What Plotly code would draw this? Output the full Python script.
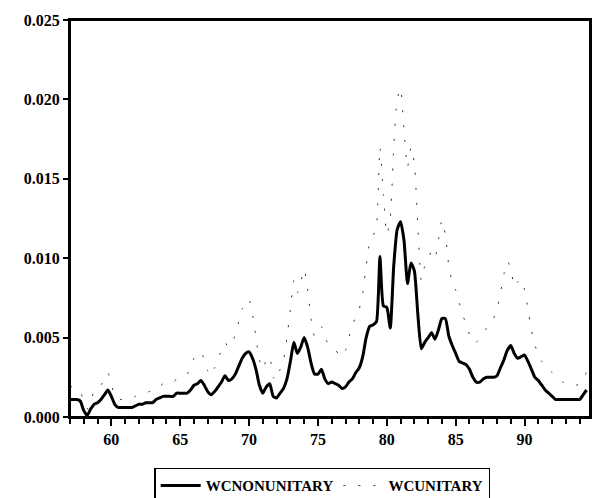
import plotly.graph_objects as go

years = list(range(57, 95))

wc_nonunitary = [
    0.0011, 0.0011, 0.0011, 0.0010,   # 57
    0.0004, 0.0001, 0.0005, 0.0008,   # 58
    0.0009, 0.0011, 0.0014, 0.0017,   # 59
    0.0013, 0.0008, 0.0006, 0.0006,   # 60
    0.0006, 0.0006, 0.0006, 0.0007,   # 61
    0.0008, 0.0008, 0.0009, 0.0009,   # 62
    0.0009, 0.0011, 0.0012, 0.0013,   # 63
    0.0013, 0.0013, 0.0013, 0.0015,   # 64
    0.0015, 0.0015, 0.0015, 0.0017,   # 65
    0.0020, 0.0021, 0.0023, 0.0020,   # 66
    0.0016, 0.0014, 0.0016, 0.0019,   # 67
    0.0022, 0.0026, 0.0023, 0.0024,   # 68
    0.0027, 0.0032, 0.0037, 0.0040,   # 69
    0.0041, 0.0037, 0.0030, 0.0020,   # 70
    0.0015, 0.0019, 0.0021, 0.0013,   # 71
    0.0012, 0.0015, 0.0018, 0.0024,   # 72
    0.0035, 0.0047, 0.0040, 0.0044,   # 73
    0.0050, 0.0044, 0.0034, 0.0027,   # 74
    0.0027, 0.0030, 0.0024, 0.0021,   # 75
    0.0022, 0.0021, 0.0020, 0.0018,   # 76
    0.0019, 0.0022, 0.0024, 0.0028,   # 77
    0.0031, 0.0038, 0.0050, 0.0057,   # 78
    0.0058, 0.0060, 0.0101, 0.0070,   # 79
    0.0069, 0.0056, 0.0095, 0.0118,   # 80
    0.0123, 0.0111, 0.0084, 0.0097,   # 81
    0.0092, 0.0065, 0.0043, 0.0047,   # 82
    0.0050, 0.0053, 0.0049, 0.0055,   # 83
    0.0062, 0.0062, 0.0051, 0.0045,   # 84
    0.0040, 0.0035, 0.0034, 0.0033,   # 85
    0.0030, 0.0025, 0.0022, 0.0022,   # 86
    0.0024, 0.0025, 0.0025, 0.0025,   # 87
    0.0026, 0.0031, 0.0036, 0.0042,   # 88
    0.0045, 0.0040, 0.0037, 0.0038,   # 89
    0.0039, 0.0035, 0.0030, 0.0025,   # 90
    0.0023, 0.0020, 0.0017, 0.0015,   # 91
    0.0013, 0.0011, 0.0011, 0.0011,   # 92
    0.0011, 0.0011, 0.0011, 0.0011,   # 93
    0.0011, 0.0014, 0.0017,           # 94
]

wc_unitary = [
    0.0019, 0.0019, 0.0018, 0.0016,   # 57
    0.0010, 0.0005, 0.0010, 0.0016,   # 58
    0.0017, 0.0020, 0.0024, 0.0028,   # 59
    0.0021, 0.0013, 0.0011, 0.0011,   # 60
    0.0011, 0.0011, 0.0012, 0.0013,   # 61
    0.0014, 0.0014, 0.0015, 0.0016,   # 62
    0.0016, 0.0017, 0.0019, 0.0021,   # 63
    0.0022, 0.0022, 0.0022, 0.0024,   # 64
    0.0025, 0.0026, 0.0027, 0.0031,   # 65
    0.0037, 0.0039, 0.0041, 0.0036,   # 66
    0.0029, 0.0026, 0.0031, 0.0037,   # 67
    0.0042, 0.0047, 0.0044, 0.0046,   # 68
    0.0052, 0.0060, 0.0068, 0.0073,   # 69
    0.0074, 0.0065, 0.0050, 0.0036,   # 70
    0.0030, 0.0036, 0.0038, 0.0025,   # 71
    0.0023, 0.0030, 0.0036, 0.0050,   # 72
    0.0068, 0.0086, 0.0078, 0.0085,   # 73
    0.0093, 0.0080, 0.0062, 0.0051,   # 74
    0.0052, 0.0057, 0.0050, 0.0046,   # 75
    0.0044, 0.0042, 0.0040, 0.0038,   # 76
    0.0042, 0.0050, 0.0058, 0.0063,   # 77
    0.0068, 0.0078, 0.0095, 0.0110,   # 78
    0.0114, 0.0120, 0.0170, 0.0140,   # 79
    0.0115, 0.0125, 0.0170, 0.0200,   # 80
    0.0207, 0.0180, 0.0157, 0.0170,   # 81
    0.0160, 0.0120, 0.0086, 0.0095,   # 82
    0.0100, 0.0104, 0.0100, 0.0112,   # 83
    0.0124, 0.0115, 0.0095, 0.0085,   # 84
    0.0080, 0.0072, 0.0065, 0.0058,   # 85
    0.0052, 0.0047, 0.0047, 0.0050,   # 86
    0.0053, 0.0056, 0.0058, 0.0062,   # 87
    0.0068, 0.0078, 0.0090, 0.0098,   # 88
    0.0094, 0.0082, 0.0085, 0.0087,   # 89
    0.0080, 0.0068, 0.0055, 0.0045,   # 90
    0.0040, 0.0035, 0.0032, 0.0030,   # 91
    0.0028, 0.0025, 0.0023, 0.0022,   # 92
    0.0021, 0.0021, 0.0021, 0.0020,   # 93
    0.0021, 0.0024, 0.0028,           # 94
]

x_tick_vals = [60, 65, 70, 75, 80, 85, 90]
x_tick_text = ["60", "65", "70", "75", "80", "85", "90"]
y_tick_vals = [0.000, 0.005, 0.010, 0.015, 0.020, 0.025]
y_tick_text = ["0.000", "0.005", "0.010", "0.015", "0.020", "0.025"]

# quarterly time index
t = [y + q / 4 for y in years for q in range(4)][: len(wc_nonunitary)]

FONT = "'Liberation Serif', 'Times New Roman', Times, serif"

fig = go.Figure()
fig.add_trace(go.Scatter(
    x=t, y=wc_nonunitary, mode="lines", name="WCNONUNITARY",
    line=dict(color="black", width=3, shape="spline", smoothing=0.5),
))
fig.add_trace(go.Scatter(
    x=t, y=wc_unitary, mode="lines", name="WCUNITARY",
    line=dict(color="#333333", width=1, dash="2px,13px", shape="spline", smoothing=0.5),
))

fig.update_layout(
    width=594, height=498,
    margin=dict(l=70, r=4, t=20, b=81, autoexpand=False),
    paper_bgcolor="white", plot_bgcolor="white",
    font=dict(family=FONT, size=16, color="black"),
    showlegend=True,
    legend=dict(
        orientation="h", x=0.485, xanchor="center", y=-0.128, yanchor="top",
        bordercolor="black", borderwidth=1.5,
        font=dict(family=FONT, size=15, color="black", weight="bold"),
        itemwidth=40, tracegroupgap=0,
    ),
    shapes=[dict(
        type="rect", xref="paper", yref="paper", x0=0, x1=1, y0=0, y1=1,
        line=dict(color="black", width=2), fillcolor="rgba(0,0,0,0)", layer="above",
    )],
)
fig.update_xaxes(
    range=[57, 94.75], showgrid=False, zeroline=False, automargin=False,
    showline=True, linecolor="black", linewidth=2, mirror=True,
    tickmode="array", tickvals=x_tick_vals, ticktext=x_tick_text,
    ticks="outside", ticklen=7, tickwidth=2, tickcolor="black",
    tickfont=dict(family=FONT, size=16, weight="bold"),
    minor=dict(dtick=1, tick0=57, ticks="outside", ticklen=5, tickwidth=2, tickcolor="black"),
)
fig.update_yaxes(
    range=[0, 0.025], showgrid=False, zeroline=False, automargin=False,
    showline=True, linecolor="black", linewidth=2, mirror=True,
    tickmode="array", tickvals=y_tick_vals, ticktext=y_tick_text,
    ticks="outside", ticklen=5, tickwidth=2, tickcolor="black",
    tickfont=dict(family=FONT, size=16, weight="bold"),
)

# remove the default page margin so the figure fills the 594x498 window exactly
fig.write_html(
    "out.html",
    config={"displayModeBar": False},
    post_script="document.body.style.margin='0';document.body.style.overflow='hidden';",
)
